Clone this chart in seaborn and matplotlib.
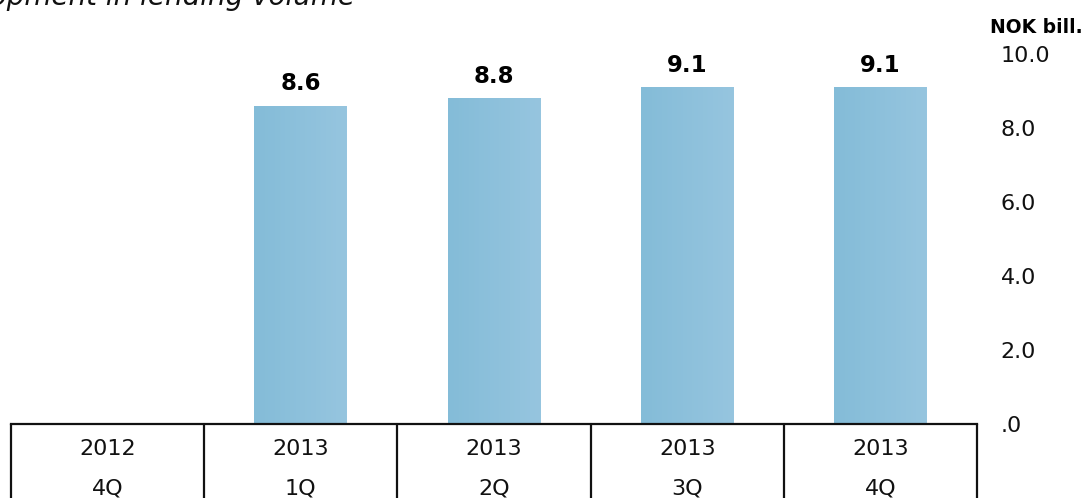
import numpy as np
import pandas as pd
import matplotlib
matplotlib.use("Agg")
import matplotlib.pyplot as plt
from matplotlib.colors import LinearSegmentedColormap
import seaborn as sns

years = ["2012", "2013", "2013", "2013", "2013"]
quarters = ["4Q", "1Q", "2Q", "3Q", "4Q"]
volume = [np.nan, 8.6, 8.8, 9.1, 9.1]
y_ticks = [0, 2, 4, 6, 8, 10]
y_tick_labels = [".0", "2.0", "4.0", "6.0", "8.0", "10.0"]

labels = [f"{y}\n{q}" for y, q in zip(years, quarters)]
df = pd.DataFrame({"period": labels, "volume": volume})

sns.set_theme(style="white")
plt.rcParams["font.family"] = ["DejaVu Sans"]

fig = plt.figure(figsize=(10.88, 4.98), dpi=100)
ax = fig.add_axes([11 / 1088, 74 / 498, 966 / 1088, 370 / 498])

sns.barplot(data=df.dropna(), x="period", y="volume", order=labels,
            color="#8CC1DC", saturation=1, width=0.48, ax=ax)

ax.set_xlabel("")
ax.set_ylabel("")

# soft left-to-right gradient on the bars
grad = LinearSegmentedColormap.from_list("bar", ["#84BCD8", "#96C5DF"])
for p in ax.patches:
    x0, y0, w, h = p.get_x(), p.get_y(), p.get_width(), p.get_height()
    if h > 0:
        im = ax.imshow(np.linspace(0, 1, 64).reshape(1, -1), cmap=grad, aspect="auto",
                       extent=(x0, x0 + w, y0, y0 + h), zorder=p.get_zorder())
        im.set_clip_path(p)
        p.set_facecolor("none")
        p.set_edgecolor("none")
ax.set_xlim(-0.5, 4.5)
ax.set_ylim(0, 10)

# value labels
for i, v in enumerate(volume):
    if not np.isnan(v):
        ax.annotate(f"{v:.1f}", (i, v), xytext=(0, 7.5), textcoords="offset points",
                    ha="center", va="bottom", fontsize=16.5, fontweight="bold",
                    color="black", annotation_clip=False)

# y axis on the right
ax.yaxis.tick_right()
ax.set_yticks(y_ticks)
ax.set_yticklabels(y_tick_labels, fontsize=16, color="#111111", ha="left")
ax.tick_params(axis="y", length=0, pad=17)

# table-like x axis
ax.set_xticks(range(len(labels)))
ax.set_xticklabels(labels, fontsize=16, color="#111111", linespacing=2.2, va="top")
ax.tick_params(axis="x", length=0, pad=11)

for s in ["top", "right", "left"]:
    ax.spines[s].set_visible(False)
ax.spines["bottom"].set_color("#111111")
ax.spines["bottom"].set_linewidth(1.6)

trans = matplotlib.transforms.blended_transform_factory(ax.transData, ax.transAxes)
for xb in np.arange(-0.5, len(labels), 1.0):
    ax.plot([xb, xb], [0, -0.3], color="#111111", lw=1.6, transform=trans, clip_on=False)

fig.text(355 / 1088, 1 - 5 / 498, "Development in lending volume", fontsize=20,
         style="italic", ha="right", va="baseline", color="#111111")
fig.text(1083 / 1088, 1 - 33 / 498, "NOK bill.", fontsize=13.5, fontweight="bold",
         ha="right", va="baseline", color="black")

fig.savefig("out.png", dpi=100)
